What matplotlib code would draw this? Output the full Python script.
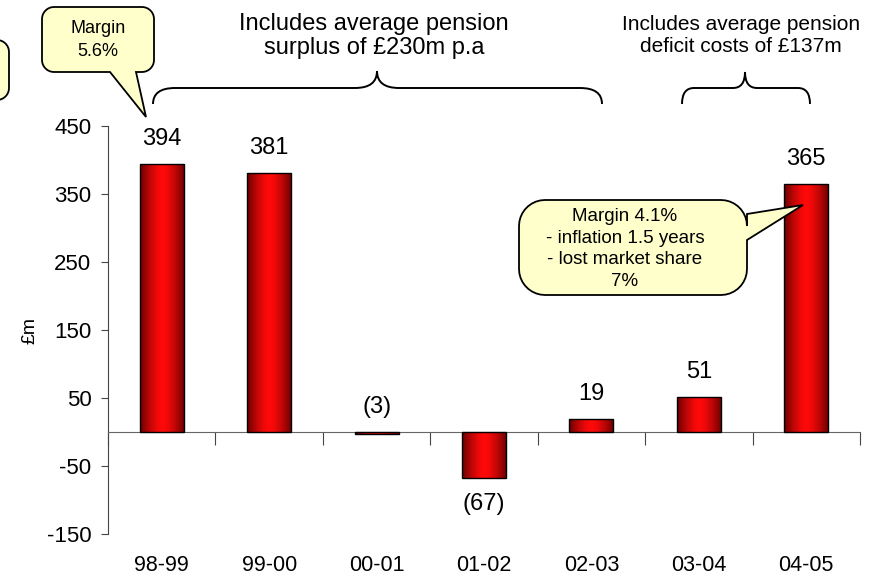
import matplotlib
matplotlib.use("Agg")
import matplotlib.pyplot as plt
import numpy as np
from matplotlib.colors import LinearSegmentedColormap
from matplotlib.patches import PathPatch
from matplotlib.path import Path

# Operating profit by financial year (£m)
years = ["98-99", "99-00", "00-01", "01-02", "02-03", "03-04", "04-05"]
profit = [394, 381, -3, -67, 19, 51, 365]
y_ticks = [-150, -50, 50, 150, 250, 350, 450]

surplus_note = "Includes average pension\nsurplus of £230m p.a"
deficit_note = "Includes average pension\ndeficit costs of £137m"
margin_early = "Margin\n5.6%"
margin_late = "Margin 4.1%\n- inflation 1.5 years\n- lost market share\n7%"

W, H = 877, 587
plt.rcParams["font.family"] = ["Liberation Sans", "DejaVu Sans"]
plt.rcParams["axes.unicode_minus"] = False

fig = plt.figure(figsize=(W / 100, H / 100), dpi=100)
ax = fig.add_axes([108 / W, 1 - 534 / H, 752 / W, 408 / H])


def fig_xy(x, y):
    """Pixel position (origin top-left) -> figure fraction."""
    return x / W, 1 - y / H


# --- bars with a horizontal dark-bright-dark red shading -------------------
red_shade = LinearSegmentedColormap.from_list("red_shade", ["#ff0a0a", "#6a0000"])
grad = np.abs(np.linspace(-1, 1, 64)) ** 1.5
grad = grad[np.newaxis, :]

x = np.arange(len(years))
bars = ax.bar(x, profit, width=0.41, facecolor="none", edgecolor="black",
              linewidth=1.0, zorder=4)
for bar in bars:
    x0, x1 = bar.get_x(), bar.get_x() + bar.get_width()
    y0, y1 = sorted([bar.get_y(), bar.get_y() + bar.get_height()])
    img = ax.imshow(grad, extent=[x0, x1, y0, y1], aspect="auto",
                    cmap=red_shade, interpolation="bicubic", zorder=3)
    img.set_clip_path(bar)

ax.set_xlim(-0.5, len(years) - 0.5)
ax.set_ylim(-150, 450)

# value labels, negatives in brackets
for xi, v in zip(x, profit):
    txt = f"({abs(v)})" if v < 0 else f"{v}"
    if v < -10:
        ax.annotate(txt, (xi, v), xytext=(0, -19), textcoords="offset points",
                    ha="center", va="center", fontsize=17)
    else:
        ax.annotate(txt, (xi, max(v, 0)), xytext=(0, 18), textcoords="offset points",
                    ha="center", va="center", fontsize=17)

# --- axes styling -----------------------------------------------------------
for side in ("top", "right"):
    ax.spines[side].set_visible(False)
ax.spines["bottom"].set_position(("data", 0))
ax.spines["bottom"].set_color("#666666")
ax.spines["left"].set_color("#444444")

ax.set_yticks(y_ticks)
ax.tick_params(axis="y", direction="out", length=5, pad=7, labelsize=16,
               color="#444444")
ax.set_xticks(np.arange(-0.5, len(years), 1))
ax.set_xticklabels([])
ax.tick_params(axis="x", direction="out", length=9, color="#444444")

for xi, lab in zip(x, years):
    ax.text(xi, -0.077, lab, transform=ax.get_xaxis_transform(),
            ha="center", va="center", fontsize=15.5)

fig.text(*fig_xy(30, 331), "£m", rotation=90, ha="center", va="center",
         fontsize=14)


# --- callouts ---------------------------------------------------------------
def callout(x0, y0, x1, y1, r, pointer=None):
    """Rounded box outline in pixels; pointer = (edge, [base_a, tip, base_b])."""
    def arc(cx, cy, a0, a1):
        t = np.radians(np.linspace(a0, a1, 10))
        return list(zip(cx + r * np.cos(t), cy + r * np.sin(t)))

    extra = {"top": [], "right": [], "bottom": [], "left": []}
    if pointer:
        extra[pointer[0]] = pointer[1]
    pts = []
    pts += arc(x0 + r, y0 + r, 180, 270) + extra["top"]
    pts += arc(x1 - r, y0 + r, 270, 360) + extra["right"]
    pts += arc(x1 - r, y1 - r, 0, 90) + extra["bottom"]
    pts += arc(x0 + r, y1 - r, 90, 180) + extra["left"]
    pts.append(pts[0])
    verts = [fig_xy(px, py) for px, py in pts]
    patch = PathPatch(Path(verts, closed=True), transform=fig.transFigure,
                      facecolor="#ffffcc", edgecolor="black", linewidth=1.3,
                      clip_on=False, zorder=5)
    fig.add_artist(patch)


callout(-40, 40, 9, 100, 12)
callout(42, 7, 154, 72, 12,
        ("bottom", [(136, 72), (146, 117), (110, 72)]))
callout(519, 200, 747, 295, 26,
        ("right", [(747, 214), (803, 205), (747, 240)]))

fig.text(*fig_xy(98, 40), margin_early, ha="center", va="center",
         fontsize=13, linespacing=1.45, zorder=6)
fig.text(*fig_xy(625, 249), margin_late, ha="center", va="center",
         fontsize=13.5, linespacing=1.35, zorder=6)


# --- curly braces over the year groups --------------------------------------
def brace(xl, xr, xc, y_end, y_flat, y_apex, r_end, r_mid):
    pts = [(xl, y_end), (xl, y_flat), (xl + r_end, y_flat),
           (xc - r_mid, y_flat), (xc, y_flat), (xc, y_apex),
           (xc, y_flat), (xc + r_mid, y_flat),
           (xr - r_end, y_flat), (xr, y_flat), (xr, y_end)]
    codes = [Path.MOVETO, Path.CURVE3, Path.CURVE3, Path.LINETO,
             Path.CURVE3, Path.CURVE3, Path.CURVE3, Path.CURVE3,
             Path.LINETO, Path.CURVE3, Path.CURVE3]
    verts = [fig_xy(px, py) for px, py in pts]
    fig.add_artist(PathPatch(Path(verts, codes), transform=fig.transFigure,
                             facecolor="none", edgecolor="black",
                             linewidth=1.4, clip_on=False))


brace(153, 602, 377, 104, 88, 71, 22, 22)
brace(682, 810, 745, 104, 88, 72, 12, 12)

fig.text(*fig_xy(374, 36), surplus_note, ha="center", va="center",
         fontsize=17, linespacing=1.15)
fig.text(*fig_xy(741, 35), deficit_note, ha="center", va="center",
         fontsize=15, linespacing=1.2)

fig.savefig("out.png", dpi=100)
